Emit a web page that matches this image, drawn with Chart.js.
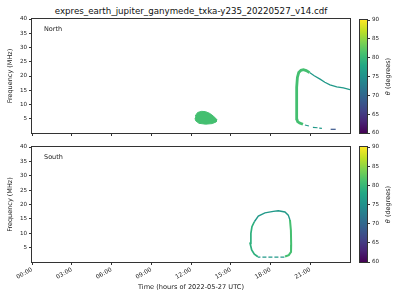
<!DOCTYPE html>
<html>
<head>
<meta charset="utf-8">
<script src="https://cdn.jsdelivr.net/npm/chart.js@4/dist/chart.umd.min.js"></script>
<style>
  body { margin: 0; background: #fff; width: 400px; height: 300px; position: relative; overflow: hidden; }
  .box { position: absolute; }
  #title { position: absolute; top: 6px; left: 0; width: 382px; text-align: center;
           font: 8.7px "DejaVu Sans"; line-height: 10px; color: #111; white-space: nowrap; }
</style>
</head>
<body>
<div id="title">expres_earth_jupiter_ganymede_txka-y235_20220527_v14.cdf</div>
<div class="box" style="left:0;top:0"><canvas id="north" width="382" height="140"></canvas></div>
<div class="box" style="left:0;top:140px"><canvas id="south" width="382" height="160"></canvas></div>
<div class="box" style="left:355px;top:0"><canvas id="cbNorth" width="45" height="140"></canvas></div>
<div class="box" style="left:355px;top:140px"><canvas id="cbSouth" width="45" height="160"></canvas></div>
<script>
// ticks
const hourTicks = [0, 3, 6, 9, 12, 15, 18, 21];
const freqTicks = [5, 10, 15, 20, 25, 30, 35, 40];
const thetaTicks = [60, 65, 70, 75, 80, 85, 90];

// North hemisphere emissions (hour, MHz), theta in degrees
const nBlobHour = [12.32, 12.5, 12.8, 13.1, 13.4, 13.7, 13.95, 13.9, 13.6, 13.1, 12.6, 12.35, 12.3];
const nBlobFreq = [6.0, 7.2, 7.6, 7.5, 6.9, 5.9, 4.7, 3.9, 3.3, 3.1, 3.4, 4.3, 5.2];
const nBlobTheta = 81;

const nArcHour = [20.45, 20.2, 20.05, 19.98, 19.97, 19.98, 20.03, 20.13, 20.3, 20.48, 20.7, 20.95];
const nArcFreq = [3.05, 3.5, 4.0, 5.0, 10.0, 16.0, 19.5, 21.2, 22.0, 22.2, 21.9, 21.2];
const nArcTheta = 81;

const nTailHour = [20.95, 21.3, 21.74, 22.1, 22.49, 23.0, 23.5, 24.0];
const nTailFreq = [21.2, 20.1, 18.9, 17.8, 16.9, 16.2, 15.8, 15.2];
const nTailTheta = 76;

const nLowHour = [20.6, 20.9, null, 21.2, 21.55, null, 21.68, 21.88];
const nLowFreq = [2.8, 2.45, null, 1.95, 1.85, null, 1.7, 1.65];
const nLowTheta = 76;

const nFarHour = [22.54, 22.92];
const nFarFreq = [1.3, 1.3];
const nFarTheta = 68;

// South hemisphere emissions
const sTopHour = [16.78, 17.08, 17.58, 18.21, 18.59, 19.09, 19.34, 19.47];
const sTopFreq = [14.0, 16.0, 17.1, 17.6, 17.8, 17.4, 16.3, 14.6];
const sTopTheta = 76;

const sRightHour = [19.47, 19.54, 19.56, 19.55, 19.38, 19.1];
const sRightFreq = [14.6, 11.0, 6.0, 3.5, 2.4, 1.9];
const sRightTheta = 81;

const sBottomHour = [19.05, 17.05];
const sBottomFreq = [1.7, 1.7];
const sBottomTheta = 76;

const sLeftHour = [17.05, 16.78, 16.58, 16.46, 16.52, 16.6, 16.78];
const sLeftFreq = [1.85, 2.7, 4.2, 6.5, 10.0, 12.3, 14.0];
const sLeftTheta = 79;

const thetaMin = 60, thetaMax = 90;
const viridisStops = ['#440154', '#482475', '#414487', '#355f8d', '#2a788e', '#21918c',
                      '#22a884', '#44bf70', '#7ad151', '#bddf26', '#fde725'];

function hexRgb(h) {
  return [1, 3, 5].map(i => parseInt(h.substr(i, 2), 16));
}
function viridis(theta) {
  let t = (theta - thetaMin) / (thetaMax - thetaMin);
  t = Math.max(0, Math.min(1, t)) * (viridisStops.length - 1);
  const i = Math.min(Math.floor(t), viridisStops.length - 2);
  const f = t - i;
  const a = hexRgb(viridisStops[i]), b = hexRgb(viridisStops[i + 1]);
  const c = a.map((v, k) => Math.round(v + (b[k] - v) * f));
  return 'rgb(' + c.join(',') + ')';
}

function pts(xs, ys) {
  return xs.map((x, i) => ({ x: x, y: ys[i] }));
}

function curve(xs, ys, theta, width, extra) {
  return Object.assign({
    data: pts(xs, ys),
    showLine: true,
    pointRadius: 0,
    borderColor: viridis(theta),
    borderWidth: width,
    spanGaps: false,
    fill: false
  }, extra || {});
}

Chart.defaults.font.family = 'DejaVu Sans';
Chart.defaults.color = '#222';
Chart.defaults.animation = false;

const framePlugin = {
  id: 'frame',
  afterDraw(chart) {
    const a = chart.chartArea, ctx = chart.ctx;
    ctx.save();
    ctx.strokeStyle = '#333';
    ctx.lineWidth = 1;
    ctx.strokeRect(Math.round(a.left) - 0.5, Math.round(a.top) - 0.5,
                   Math.round(a.right - a.left) + 1, Math.round(a.bottom - a.top) + 1);
    const lbl = chart.options.plugins.frame && chart.options.plugins.frame.label;
    if (lbl) {
      ctx.fillStyle = '#222';
      ctx.font = '6.5px "DejaVu Sans"';
      ctx.textBaseline = 'middle';
      ctx.fillText(lbl, a.left + 12, a.top + 10.5);
    }
    const side = chart.options.plugins.frame && chart.options.plugins.frame.sideTitle;
    if (side) {
      ctx.translate(a.right + 21, (a.top + a.bottom) / 2);
      ctx.rotate(-Math.PI / 2);
      ctx.textBaseline = 'middle';
      ctx.fillStyle = '#222';
      ctx.font = 'italic 6.5px "DejaVu Sans"';
      const w1 = ctx.measureText('θ').width;
      ctx.font = '6.5px "DejaVu Sans"';
      const w2 = ctx.measureText(' (degrees)').width;
      ctx.textAlign = 'left';
      ctx.font = 'italic 6.5px "DejaVu Sans"';
      ctx.fillText('θ', -(w1 + w2) / 2, 0);
      ctx.font = '6.5px "DejaVu Sans"';
      ctx.fillText(' (degrees)', -(w1 + w2) / 2 + w1, 0);
    }
    ctx.restore();
  }
};

function hourLabel(v) {
  return (v < 10 ? '0' : '') + v + ':00';
}

function panel(id, datasets, label, showX, padTop, xHeight) {
  return new Chart(document.getElementById(id), {
    type: 'scatter',
    data: { datasets: datasets },
    options: {
      responsive: false,
      layout: { padding: { top: padTop, right: 32, left: 0, bottom: 0 } },
      plugins: { legend: { display: false }, tooltip: { enabled: false }, frame: { label: label } },
      scales: {
        x: {
          type: 'linear', min: 0, max: 24,
          afterBuildTicks: s => { s.ticks = hourTicks.map(v => ({ value: v })); },
          afterFit: s => { s.height = xHeight; },
          grid: { drawOnChartArea: false, tickLength: 3, color: '#333' },
          border: { display: false },
          ticks: {
            display: showX, font: { size: 6 }, padding: 1,
            minRotation: 30, maxRotation: 30, autoSkip: false,
            callback: v => hourLabel(v)
          },
          title: {
            display: showX, text: 'Time (hours of 2022-05-27 UTC)',
            font: { size: 6.6 }, padding: { top: 0, bottom: 9 }
          }
        },
        y: {
          min: 0, max: 40,
          afterBuildTicks: s => { s.ticks = freqTicks.map(v => ({ value: v })); },
          afterFit: s => { s.width = 32; },
          grid: { drawOnChartArea: false, tickLength: 3, color: '#333' },
          border: { display: false },
          ticks: { font: { size: 5.6 }, padding: 2 },
          title: { display: true, text: 'Frequency (MHz)', font: { size: 6.5 }, padding: { top: 6, bottom: 0 } }
        }
      }
    },
    plugins: [framePlugin]
  });
}

panel('north', [
  curve(nBlobHour, nBlobFreq, nBlobTheta, 1, { fill: 'shape', backgroundColor: viridis(nBlobTheta) }),
  curve(nArcHour, nArcFreq, nArcTheta, 2.8),
  curve(nTailHour, nTailFreq, nTailTheta, 1.3),
  curve(nLowHour, nLowFreq, nLowTheta, 1.2),
  curve(nFarHour, nFarFreq, nFarTheta, 1.2)
], 'North', false, 19, 7);

panel('south', [
  curve(sTopHour, sTopFreq, sTopTheta, 1.4),
  curve(sRightHour, sRightFreq, sRightTheta, 2.0),
  curve(sBottomHour, sBottomFreq, sBottomTheta, 1.2, { borderDash: [4, 2] }),
  curve(sLeftHour, sLeftFreq, sLeftTheta, 1.7)
], 'South', true, 7, 38);

function colorbar(id, padTop, padBottom) {
  return new Chart(document.getElementById(id), {
    type: 'bar',
    data: {
      labels: ['theta'],
      datasets: [{
        data: [[thetaMin, thetaMax]],
        barPercentage: 1, categoryPercentage: 1, borderWidth: 0,
        backgroundColor: ctx => {
          const a = ctx.chart.chartArea;
          if (!a) return viridis(75);
          const g = ctx.chart.ctx.createLinearGradient(0, a.bottom, 0, a.top);
          viridisStops.forEach((c, i) => g.addColorStop(i / (viridisStops.length - 1), c));
          return g;
        }
      }]
    },
    options: {
      responsive: false,
      layout: { padding: { top: padTop, left: 5, right: 0, bottom: padBottom } },
      plugins: { legend: { display: false }, tooltip: { enabled: false }, frame: { sideTitle: true } },
      scales: {
        x: { display: false },
        y: {
          position: 'right', min: thetaMin, max: thetaMax,
          afterBuildTicks: s => { s.ticks = thetaTicks.map(v => ({ value: v })); },
          afterFit: s => { s.width = 33; },
          grid: { drawOnChartArea: false, tickLength: 3, color: '#333' },
          border: { display: false },
          ticks: { font: { size: 5.6 }, padding: 2 }
        }
      }
    },
    plugins: [framePlugin]
  });
}

colorbar('cbNorth', 20, 7);
colorbar('cbSouth', 7, 38);
</script>
</body>
</html>
